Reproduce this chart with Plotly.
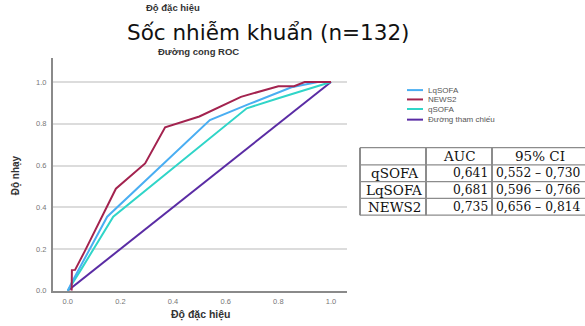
import plotly.graph_objects as go

W, H = 585, 326
OFF = 0

# ---- data ----
news2_x = [0.015, 0.016, 0.028, 0.065, 0.183, 0.294, 0.37, 0.50, 0.658, 0.80, 0.86, 0.90, 1.0]
news2_y = [0.0, 0.099, 0.10, 0.19, 0.489, 0.61, 0.783, 0.835, 0.929, 0.98, 0.98, 1.0, 1.0]
lq_x = [0.0, 0.02, 0.150, 0.54, 0.69, 0.85, 0.95, 1.0]
lq_y = [0.0, 0.05, 0.355, 0.818, 0.895, 0.975, 1.0, 1.0]
q_x = [0.0, 0.05, 0.173, 0.68, 0.80, 1.0]
q_y = [0.0, 0.10, 0.355, 0.874, 0.922, 1.0]
ref_x = [0.0, 1.0]
ref_y = [0.0, 1.0]

tick_vals = [0.0, 0.2, 0.4, 0.6, 0.8, 1.0]
tick_text = ["0.0", "0.2", "0.4", "0.6", "0.8", "1.0"]

legend_names = ["LqSOFA", "NEWS2", "qSOFA", "Đường tham chiếu"]
colors = {"LqSOFA": "#4aaef2", "NEWS2": "#a3234f", "qSOFA": "#30d5c8",
          "Đường tham chiếu": "#5a2ca4"}

table_header = ["", "AUC", "95% CI"]
table_rows = ["qSOFA", "LqSOFA", "NEWS2"]
table_auc = ["0,641", "0,681", "0,735"]
table_ci = ["0,552 – 0,730", "0,596 – 0,766", "0,656 – 0,814"]

title_text = "Sốc nhiễm khuẩn (n=132)"
x_title = "Độ đặc hiệu"
y_title = "Độ nhạy"
top_label = "Độ đặc hiệu"
sub_title = "Đường cong ROC"


def px(x):
    return (x - OFF) / W


def py(y):
    return 1 - (y - OFF) / H


fig = go.Figure()
series = [("NEWS2", news2_x, news2_y), ("LqSOFA", lq_x, lq_y),
          ("qSOFA", q_x, q_y), ("Đường tham chiếu", ref_x, ref_y)]
for name, xs, ys in [series[3], series[2], series[1], series[0]]:
    fig.add_trace(go.Scatter(x=xs, y=ys, mode="lines", name=name,
                             line=dict(color=colors[name], width=2),
                             showlegend=False, hoverinfo="skip"))

x0p, x1p = 53, 347
y_top, y_bot = 59, 295.3
x_zero, x_unit = 67.7, 263.3
y_unit = 212.0

fig.update_layout(
    width=W, height=H, margin=dict(l=0, r=0, t=0, b=0),
    paper_bgcolor="white", plot_bgcolor="white",
    xaxis=dict(domain=[px(x0p), px(x1p)],
               range=[(x0p - x_zero) / x_unit, (x1p - x_zero) / x_unit],
               tickvals=tick_vals, ticktext=tick_text, showgrid=False,
               zeroline=False, showline=True, linecolor="#8a8a8a", linewidth=2,
               ticks="", tickfont=dict(family="Liberation Sans", size=7.5, color="#777"),
               ticklabelstandoff=2),
    yaxis=dict(domain=[py(y_bot), py(y_top)],
               range=[0, (y_bot - y_top) / y_unit],
               tickvals=tick_vals, ticktext=tick_text, showgrid=True,
               gridcolor="#dcdcdc", gridwidth=1.5,
               zeroline=False, showline=True, linecolor="#8a8a8a", linewidth=2,
               ticks="", tickfont=dict(family="Liberation Sans", size=7.5, color="#777"),
               ticklabelstandoff=3),
)

ann = []
shapes = []


def add_text(text, x, y, font, xanchor="center", angle=0):
    ann.append(dict(text=text, x=px(x), y=py(y), xref="paper", yref="paper",
                    xanchor=xanchor, yanchor="middle", showarrow=False,
                    textangle=angle, font=font))


add_text(title_text, 268, 33, dict(family="DejaVu Sans", size=21.5, color="#111"))
add_text("<b>" + top_label + "</b>", 173, 8,
         dict(family="Liberation Sans", size=9.5, color="#333"))
add_text("<b>" + sub_title + "</b>", 198, 52,
         dict(family="Liberation Sans", size=9.5, color="#333"))
add_text("<b>" + x_title + "</b>", 201, 319,
         dict(family="Liberation Sans", size=10.5, color="#333"))
add_text("<b>" + y_title + "</b>", 16, 178,
         dict(family="Liberation Sans", size=10, color="#333"), angle=-90)

# legend
leg_y = [91.5, 101, 110.7, 121.5]
for name, yy in zip(legend_names, leg_y):
    shapes.append(dict(type="line", xref="paper", yref="paper",
                       x0=px(407), x1=px(423), y0=py(yy), y1=py(yy),
                       line=dict(color=colors[name], width=2)))
    add_text(name, 426, yy, dict(family="Liberation Sans", size=8, color="#555"),
             xanchor="left")

# table
col_x = [360, 426, 492, 586]
row_y = [150, 167.5, 184.5, 201.5, 218.5]
for yy in row_y:
    shapes.append(dict(type="line", xref="paper", yref="paper",
                       x0=px(col_x[0]), x1=px(col_x[-1]), y0=py(yy), y1=py(yy),
                       line=dict(color="#8c8c8c", width=1.3)))
for xx in col_x[:-1]:
    shapes.append(dict(type="line", xref="paper", yref="paper",
                       x0=px(xx), x1=px(xx), y0=py(row_y[0]), y1=py(row_y[-1]),
                       line=dict(color="#8c8c8c", width=2)))
tfont = dict(family="DejaVu Serif", size=13.5, color="#111")
vfont = dict(family="DejaVu Serif", size=12.3, color="#111")
hy = (row_y[0] + row_y[1]) / 2
add_text(table_header[1], (col_x[1] + col_x[2]) / 2, hy, tfont)
add_text(table_header[2], 540, hy, tfont)
for i, (r, a, c) in enumerate(zip(table_rows, table_auc, table_ci)):
    yy = (row_y[i + 1] + row_y[i + 2]) / 2
    add_text(r, (col_x[0] + col_x[1]) / 2 + 1, yy, tfont)
    add_text(a, col_x[2] - 2, yy, vfont, xanchor="right")
    add_text(c, col_x[2] + 2, yy, vfont, xanchor="left")

fig.update_layout(annotations=ann, shapes=shapes)
fig.write_html("out.html", config={"displayModeBar": False},
               post_script="document.body.style.margin='0';document.body.style.overflow='hidden';")
